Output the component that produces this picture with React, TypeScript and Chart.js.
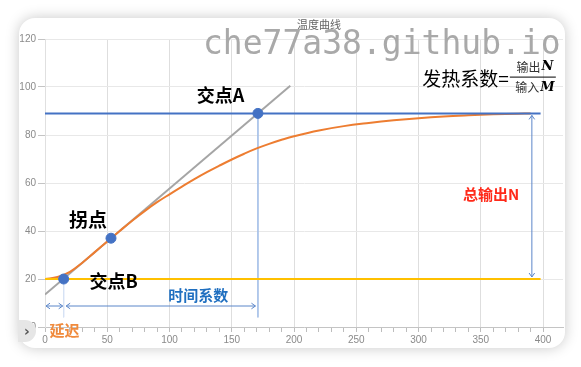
import React, { useEffect, useRef } from 'react';
import { Chart, registerables } from 'chart.js';

Chart.register(...registerables);

// ---- data ----
const curveX = [0, 10, 20, 30, 40, 50, 60, 70, 80, 90, 100, 110, 120, 130, 140, 150, 160, 170, 180, 190, 200, 220, 240, 260, 280, 300, 320, 340, 360, 380, 390];
const curveY = [20, 20.8, 23, 26.8, 31.2, 35.6, 40, 44.3, 48.3, 52, 55.3, 58.5, 61.6, 64.5, 67.2, 69.8, 72.2, 74.4, 76.3, 78, 79.5, 81.9, 83.7, 85, 86.1, 87, 87.7, 88.2, 88.6, 88.85, 89];

const tangentX = [0, 197];
const tangentY = [13.5, 100.5];

const keyX = [171, 53, 15];
const keyY = [89, 37, 20];

const outputLevel = 89;
const startLevel = 20;
const levelLineX = [0, 398];

const guideAX = [171, 171];
const guideAY = [89, 4];
const guideBX = [15, 15];
const guideBY = [20, 4];

const delayArrowX = [0, 15];
const timeArrowX = [17, 169];
const arrowY = 8.75;
const totalArrowX = 391;
const totalArrowY = [89, 20];

const xTickLabels = [0, 50, 100, 150, 200, 250, 300, 350, 400];
const yTickLabels = [0, 20, 40, 60, 80, 100, 120];

const titleText = '温度曲线';
const labelA = { text: '交点A', x: 141, y: 96.6 };
const labelInflect = { text: '拐点', x: 34.6, y: 44.7 };
const labelB = { text: '交点B', x: 55.1, y: 19.2 };
const labelTime = { text: '时间系数', x: 123, y: 13.4 };
const labelDelay = { text: '延迟', x: 15.7, y: -1.25 };
const labelTotal = { text: '总输出N', x: 358.2, y: 55.2 };
const formula = { lhs: '发热系数=', num: '输出', numVar: 'N', den: '输入', denVar: 'M', x: 303, y: 103.5 };

const pts = (xs: number[], ys: number[]) => xs.map((v, i) => ({ x: v, y: ys[i] }));

const annotPlugin = {
  id: 'annot',
  afterDatasetsDraw(chart: any) {
    const { ctx, scales, chartArea } = chart;
    const sx = scales.x;
    const sy = scales.y;
    const px = (v: number) => sx.getPixelForValue(v);
    const py = (v: number) => sy.getPixelForValue(v);
    ctx.save();

    // arrows
    ctx.strokeStyle = '#5B86C9';
    ctx.lineWidth = 1;
    const head = 4;
    const hArrow = (x1: number, x2: number, y: number) => {
      ctx.beginPath();
      ctx.moveTo(x1, y);
      ctx.lineTo(x2, y);
      ctx.moveTo(x1 + head, y - head * 0.7);
      ctx.lineTo(x1, y);
      ctx.lineTo(x1 + head, y + head * 0.7);
      ctx.moveTo(x2 - head, y - head * 0.7);
      ctx.lineTo(x2, y);
      ctx.lineTo(x2 - head, y + head * 0.7);
      ctx.stroke();
    };
    const vArrow = (x: number, y1: number, y2: number) => {
      ctx.beginPath();
      ctx.moveTo(x, y1);
      ctx.lineTo(x, y2);
      ctx.moveTo(x - head * 0.7, y1 + head);
      ctx.lineTo(x, y1);
      ctx.lineTo(x + head * 0.7, y1 + head);
      ctx.moveTo(x - head * 0.7, y2 - head);
      ctx.lineTo(x, y2);
      ctx.lineTo(x + head * 0.7, y2 - head);
      ctx.stroke();
    };
    hArrow(px(delayArrowX[0]) + 1, px(delayArrowX[1]) - 1, py(arrowY));
    hArrow(px(timeArrowX[0]), px(timeArrowX[1]), py(arrowY));
    vArrow(px(totalArrowX), py(totalArrowY[0]) + 2, py(totalArrowY[1]) - 2);

    // labels
    ctx.textAlign = 'center';
    ctx.textBaseline = 'middle';
    const cjk = '"Noto Sans CJK SC", "Noto Sans", sans-serif';
    const draw = (l: any, font: string, color: string) => {
      ctx.font = font;
      ctx.fillStyle = color;
      ctx.fillText(l.text, px(l.x), py(l.y));
    };
    draw(labelA, `bold 18px ${cjk}`, '#000');
    draw(labelInflect, `bold 19px ${cjk}`, '#000');
    draw(labelB, `bold 18px ${cjk}`, '#000');
    draw(labelTime, `bold 15px ${cjk}`, '#1F6FC0');
    draw(labelDelay, `bold 15px ${cjk}`, '#F08A3C');
    draw(labelTotal, `bold 15px ${cjk}`, '#FF2A1A');

    // formula
    const fx = px(formula.x);
    const fy = py(formula.y);
    ctx.textAlign = 'left';
    ctx.font = `19px ${cjk}`;
    ctx.fillStyle = '#000';
    ctx.fillText(formula.lhs, fx, fy);
    const lw = ctx.measureText(formula.lhs).width;
    const fracL = fx + lw + 1;
    const fracW = 46;
    ctx.strokeStyle = '#000';
    ctx.lineWidth = 1;
    ctx.beginPath();
    ctx.moveTo(fracL, fy - 1.5);
    ctx.lineTo(fracL + fracW, fy - 1.5);
    ctx.stroke();
    const part = (a: string, b: string, cy: number) => {
      ctx.font = `12px ${cjk}`;
      const wa = ctx.measureText(a).width;
      ctx.font = 'italic bold 13px "DejaVu Serif", "Liberation Serif", serif';
      const wb = ctx.measureText(b).width;
      const start = fracL + (fracW - wa - wb - 1) / 2 + 2;
      ctx.fillStyle = '#333';
      ctx.font = `12px ${cjk}`;
      ctx.fillText(a, start, cy);
      ctx.fillStyle = '#000';
      ctx.font = 'italic bold 13px "DejaVu Serif", "Liberation Serif", serif';
      ctx.fillText(b, start + wa + 1, cy);
    };
    part(formula.num, formula.numVar, fy - 11.5);
    part(formula.den, formula.denVar, fy + 9);

    // title
    ctx.textAlign = 'center';
    ctx.font = '11px "Noto Sans CJK SC", sans-serif';
    ctx.fillStyle = '#666';
    ctx.fillText(titleText, (chartArea.left + chartArea.right) / 2 + 15, chartArea.top - 14);

    ctx.restore();
  },
};

export default function App() {
  const ref = useRef<HTMLCanvasElement | null>(null);
  useEffect(() => {
    if (!ref.current) return;
    const chart = new Chart(ref.current, {
      type: 'line',
      data: {
        datasets: [
          {
            label: 'points',
            data: pts(keyX, keyY),
            showLine: false,
            pointRadius: 5,
            pointBackgroundColor: '#4472C4',
            pointBorderColor: '#4472C4',
            order: 0,
          },
          {
            label: 'start',
            data: pts(levelLineX, [startLevel, startLevel]),
            borderColor: '#FFC000',
            borderWidth: 2,
            pointRadius: 0,
            order: 1,
          },
          {
            label: 'output',
            data: pts(levelLineX, [outputLevel, outputLevel]),
            borderColor: '#4472C4',
            borderWidth: 2,
            pointRadius: 0,
            order: 2,
          },
          {
            label: 'curve',
            data: pts(curveX, curveY),
            borderColor: '#ED7D31',
            borderWidth: 2,
            pointRadius: 0,
            tension: 0.4,
            order: 3,
          },
          {
            label: 'tangent',
            data: pts(tangentX, tangentY),
            borderColor: '#A5A5A5',
            borderWidth: 2,
            pointRadius: 0,
            order: 4,
          },
          {
            label: 'guideA',
            data: pts(guideAX, guideAY),
            borderColor: '#A9C2E8',
            borderWidth: 1,
            pointRadius: 0,
            order: 5,
          },
          {
            label: 'guideB',
            data: pts(guideBX, guideBY),
            borderColor: '#D6E3F5',
            borderWidth: 1,
            pointRadius: 0,
            order: 6,
          },
        ],
      },
      options: {
        responsive: false,
        devicePixelRatio: 1,
        animation: false,
        layout: { padding: { top: 39, right: 18, bottom: 0, left: 0 } },
        plugins: {
          legend: { display: false },
          tooltip: { enabled: false },
          title: { display: false },
        },
        scales: {
          x: {
            type: 'linear',
            min: 0,
            max: 416,
            afterFit: (s: any) => { s.height = 40; },
            ticks: {
              stepSize: 10,
              autoSkip: false,
              maxRotation: 0,
              padding: 2,
              color: '#8a8a8a',
              font: { size: 10, family: '"Liberation Sans", Arial, sans-serif' },
              callback: (v: any) => (xTickLabels.includes(Number(v)) ? String(v) : ''),
            },
            grid: {
              color: (c: any) => (c.tick && c.tick.value % 50 === 0 ? '#DEDEDE' : 'transparent'),
              tickColor: (c: any) => (c.tick && c.tick.value % 10 === 0 ? '#BDBDBD' : 'transparent'),
              tickLength: 5,
            },
            border: { color: '#C4C4C4' },
          },
          y: {
            type: 'linear',
            min: 0,
            max: 120,
            afterFit: (s: any) => { s.width = 45; },
            ticks: {
              stepSize: 20,
              padding: 2,
              color: '#8a8a8a',
              font: { size: 10, family: '"Liberation Sans", Arial, sans-serif' },
              callback: (v: any) => (yTickLabels.includes(Number(v)) ? String(v) : ''),
            },
            grid: { color: '#E8E8E8', tickColor: '#C4C4C4', tickLength: 7 },
            border: { color: '#E0E0E0' },
          },
        },
      },
      plugins: [annotPlugin],
    } as any);
    return () => chart.destroy();
  }, []);

  return (
    <div style={{ position: 'fixed', left: 0, top: 0, width: 581, height: 367, background: '#ffffff', overflow: 'hidden' }}>
      <div
        style={{
          position: 'absolute',
          left: 19,
          top: 18,
          width: 546,
          height: 330,
          borderRadius: 16,
          background: '#fff',
          boxShadow: '0 0 14px rgba(0,0,0,0.22)',
        }}
      />
      <canvas ref={ref} width={581} height={367} style={{ position: 'absolute', left: 0, top: 0, width: 581, height: 367 }} />
      <div
        style={{
          position: 'absolute',
          left: 203,
          top: 26,
          fontFamily: '"DejaVu Sans Mono", monospace',
          fontSize: 33,
          lineHeight: '33px',
          color: '#A9A9A9',
          whiteSpace: 'nowrap',
          pointerEvents: 'none',
        }}
      >
        che77a38.github.io
      </div>
      <div
        style={{
          position: 'absolute',
          left: 18,
          top: 320,
          width: 18,
          height: 22,
          borderRadius: '0 11px 11px 0',
          background: '#E6E6E6',
          color: '#555',
          fontFamily: '"DejaVu Sans", sans-serif',
          fontWeight: 'bold',
          fontSize: 14,
          lineHeight: '22px',
          textAlign: 'center',
        }}
      >
        ›
      </div>
    </div>
  );
}
